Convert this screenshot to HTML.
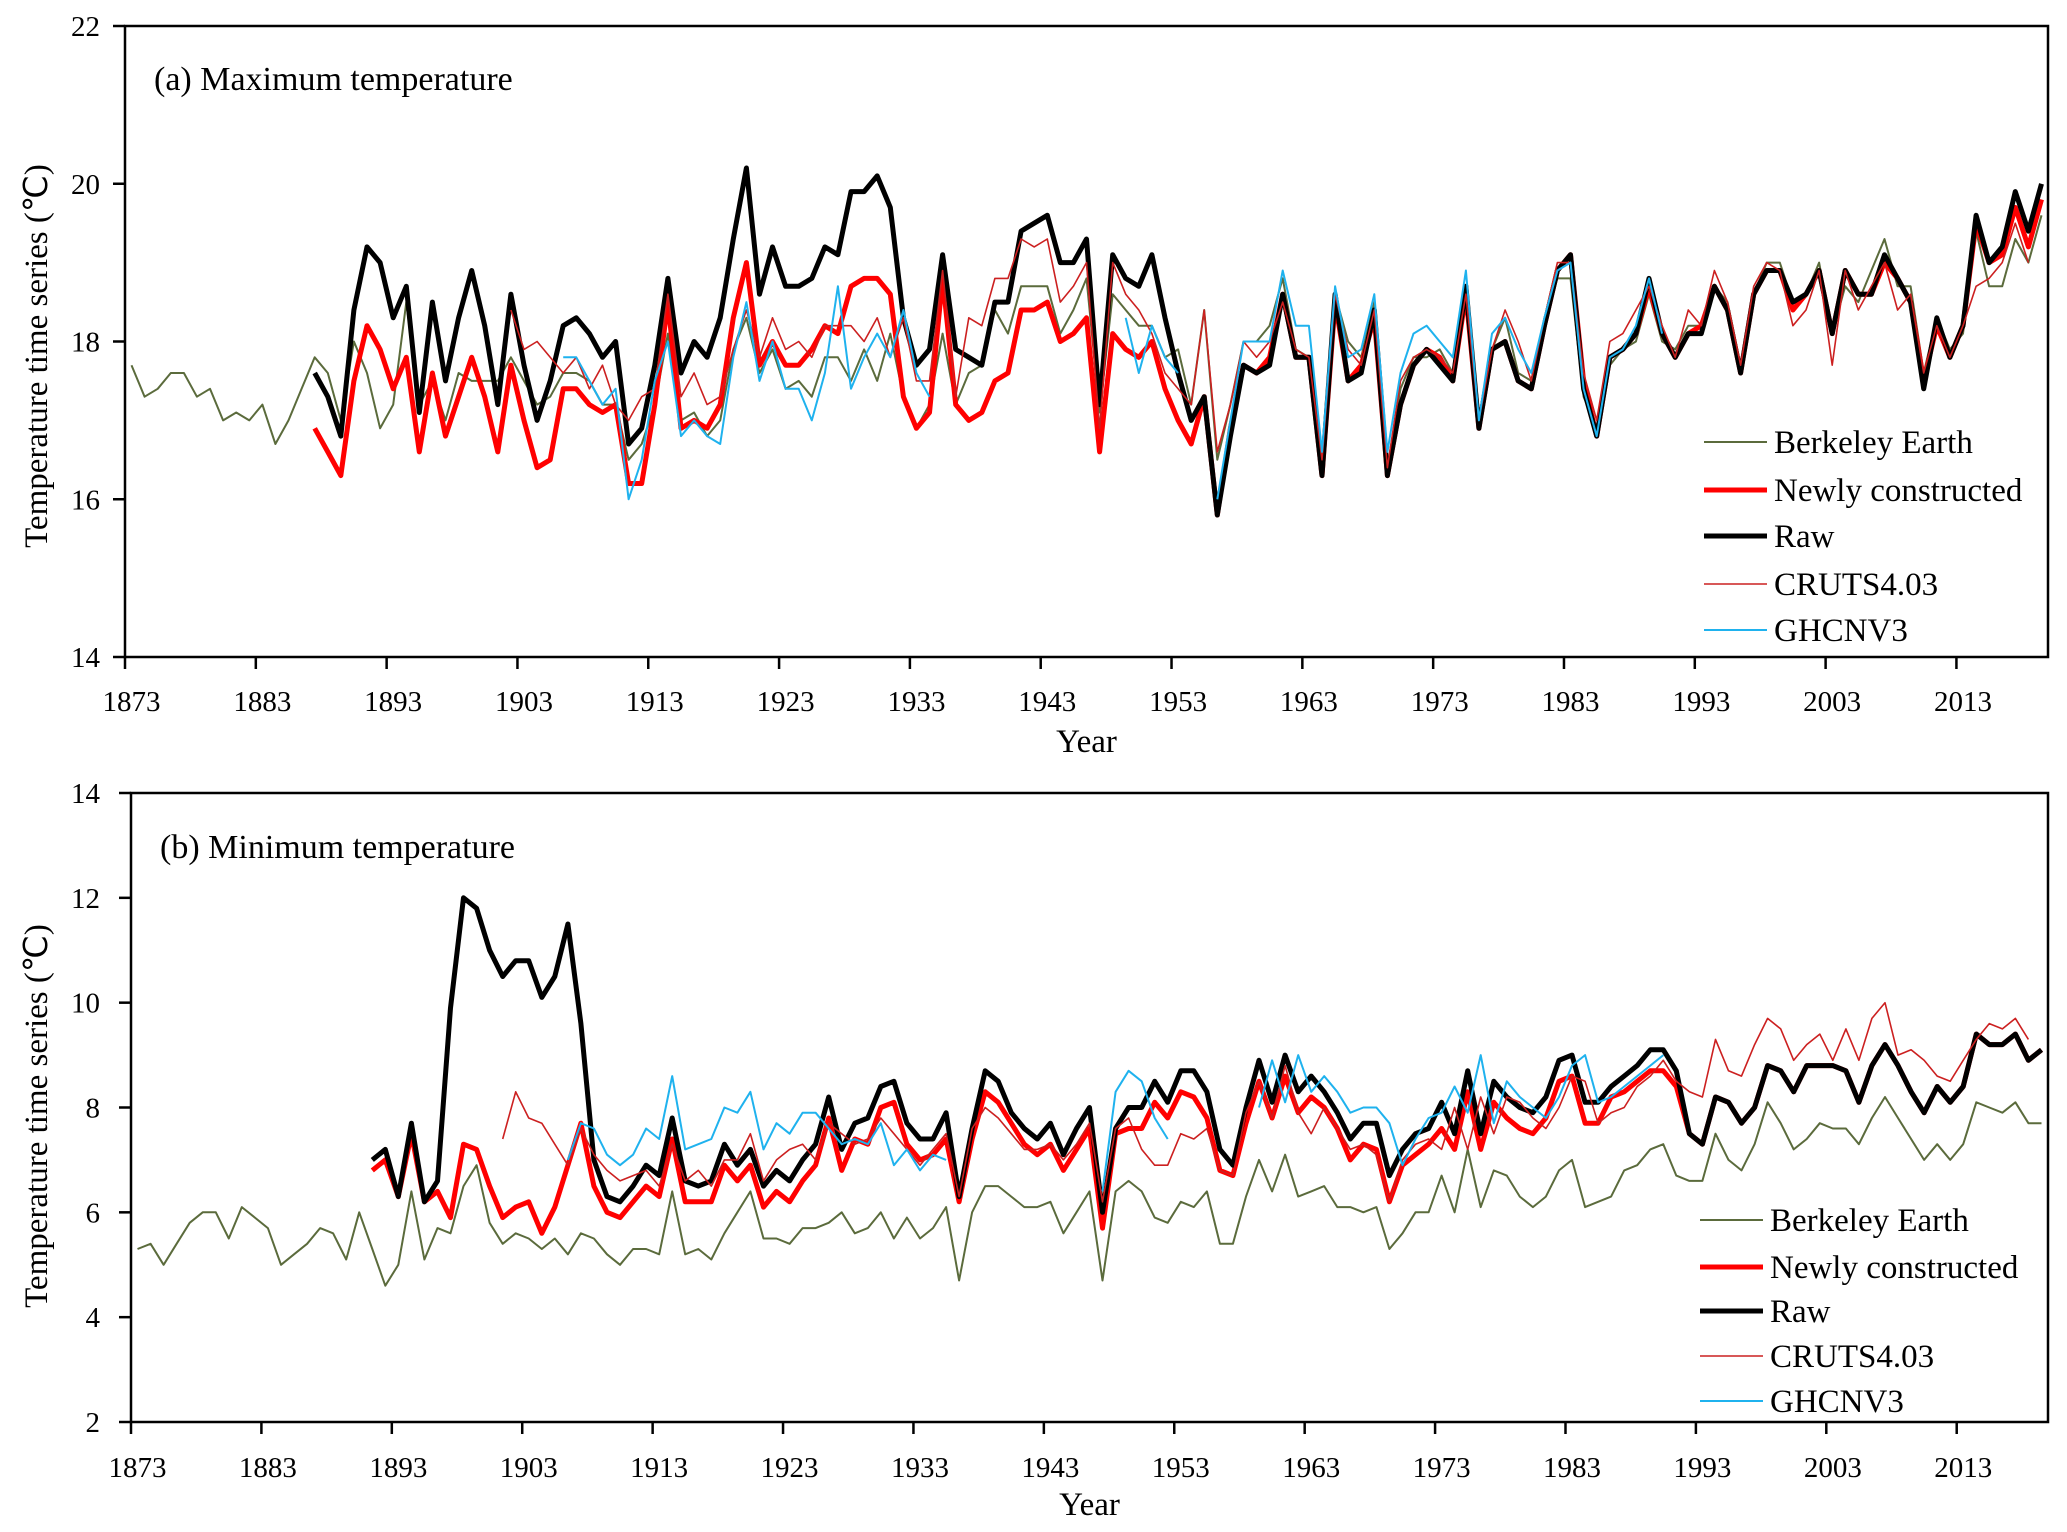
<!DOCTYPE html>
<html><head><meta charset="utf-8"><style>
html,body{margin:0;padding:0;background:#fff;}
svg{display:block;font-family:"Liberation Serif",serif;}
</style></head><body>
<svg id="chart" width="2067" height="1532" viewBox="0 0 2067 1532" xmlns="http://www.w3.org/2000/svg"></svg>
<script>
const years0 = 1873, nYears = 147;
const xTickYears = [1873,1883,1893,1903,1913,1923,1933,1943,1953,1963,1973,1983,1993,2003,2013];
const topYTicks = [14,16,18,20,22];
const botYTicks = [2,4,6,8,10,12,14];
const seriesNames = ["Berkeley Earth","Newly constructed","Raw","CRUTS4.03","GHCNV3"];

// Top panel (maximum temperature)
const maxBerkeleyStart = 1873;
const maxBerkeley = [17.7,17.3,17.4,17.6,17.6,17.3,17.4,17.0,17.1,17.0,
17.2,16.7,17.0,17.4,17.8,17.6,17.0,18.0,17.6,16.9,
17.2,18.5,17.2,17.5,17.0,17.6,17.5,17.5,17.5,17.8,
17.5,17.2,17.3,17.6,17.6,17.5,17.2,17.2,16.5,16.7,
17.2,18.1,17.0,17.1,16.8,17.0,17.9,18.3,17.6,17.9,
17.4,17.5,17.3,17.8,17.8,17.5,17.9,17.5,18.1,17.3,
16.9,17.2,18.1,17.2,17.6,17.7,18.4,18.1,18.7,18.7,
18.7,18.1,18.4,18.8,17.1,18.6,18.4,18.2,18.2,17.8,
17.9,17.2,18.4,16.5,17.2,18.0,18.0,18.2,18.8,17.9,
17.8,16.5,18.6,18.0,17.8,18.5,16.4,17.4,17.8,17.8,
17.9,17.6,18.7,17.0,17.9,18.3,17.6,17.5,18.3,18.8,
18.8,17.3,16.9,17.7,17.9,18.0,18.6,18.0,17.9,18.2,
18.2,18.7,18.5,17.7,18.6,19.0,19.0,18.5,18.6,19.0,
18.1,18.7,18.5,18.9,19.3,18.7,18.7,17.6,18.3,17.9,
18.1,19.4,18.7,18.7,19.3,19.0,19.6];
const maxNewStart = 1887;
const maxNew = [16.9,16.6,16.3,17.5,18.2,17.9,17.4,17.8,16.6,17.6,
16.8,17.3,17.8,17.3,16.6,17.7,17.0,16.4,16.5,17.4,
17.4,17.2,17.1,17.2,16.2,16.2,17.2,18.5,16.9,17.0,
16.9,17.2,18.3,19.0,17.7,18.0,17.7,17.7,17.9,18.2,
18.1,18.7,18.8,18.8,18.6,17.3,16.9,17.1,18.8,17.2,
17.0,17.1,17.5,17.6,18.4,18.4,18.5,18.0,18.1,18.3,
16.6,18.1,17.9,17.8,18.0,17.4,17.0,16.7,17.3,15.8,
16.9,17.7,17.6,17.8,18.6,17.8,17.8,16.3,18.5,17.5,
17.7,18.3,16.3,17.2,17.7,17.9,17.8,17.5,18.6,16.9,
17.9,18.0,17.5,17.4,18.2,18.9,19.1,17.5,16.8,17.8,
17.9,18.1,18.7,18.1,17.8,18.1,18.2,18.7,18.4,17.6,
18.6,18.9,18.9,18.4,18.6,18.9,18.1,18.9,18.6,18.6,
19.0,18.8,18.5,17.5,18.2,17.8,18.2,19.5,19.0,19.1,
19.7,19.2,19.8];
const maxRawStart = 1887;
const maxRaw = [17.6,17.3,16.8,18.4,19.2,19.0,18.3,18.7,17.1,18.5,
17.5,18.3,18.9,18.2,17.2,18.6,17.7,17.0,17.5,18.2,
18.3,18.1,17.8,18.0,16.7,16.9,17.7,18.8,17.6,18.0,
17.8,18.3,19.3,20.2,18.6,19.2,18.7,18.7,18.8,19.2,
19.1,19.9,19.9,20.1,19.7,18.3,17.7,17.9,19.1,17.9,
17.8,17.7,18.5,18.5,19.4,19.5,19.6,19.0,19.0,19.3,
17.2,19.1,18.8,18.7,19.1,18.3,17.6,17.0,17.3,15.8,
16.8,17.7,17.6,17.7,18.6,17.8,17.8,16.3,18.6,17.5,
17.6,18.4,16.3,17.2,17.7,17.9,17.7,17.5,18.7,16.9,
17.9,18.0,17.5,17.4,18.2,18.9,19.1,17.4,16.8,17.8,
17.9,18.1,18.8,18.1,17.8,18.1,18.1,18.7,18.4,17.6,
18.6,18.9,18.9,18.5,18.6,18.9,18.1,18.9,18.6,18.6,
19.1,18.8,18.5,17.4,18.3,17.8,18.2,19.6,19.0,19.2,
19.9,19.4,20.0];
const maxCruStart = 1902;
const maxCru = [18.4,17.9,18.0,17.8,17.6,17.8,17.4,17.7,17.2,17.0,
17.3,17.4,18.6,17.3,17.6,17.2,17.3,17.9,18.4,17.8,
18.3,17.9,18.0,17.8,18.2,18.2,18.2,18.0,18.3,17.8,
18.3,17.5,17.5,18.9,17.3,18.3,18.2,18.8,18.8,19.3,
19.2,19.3,18.5,18.7,19.0,16.9,19.0,18.6,18.4,18.1,
17.6,17.4,17.2,18.4,16.6,17.2,18.0,17.8,18.0,18.5,
17.9,17.8,16.5,18.6,17.9,17.7,18.4,16.4,17.5,17.8,
17.9,17.8,17.6,18.6,17.0,17.9,18.4,18.0,17.5,18.3,
19.0,19.0,17.6,17.0,18.0,18.1,18.4,18.7,18.2,17.8,
18.4,18.2,18.9,18.5,17.7,18.7,19.0,18.9,18.2,18.4,
18.9,17.7,18.9,18.4,18.7,19.0,18.4,18.6,17.6,18.2,
17.8,18.2,18.7,18.8,19.0,19.5,19.0];
const maxGhcnStart = 1906;
const maxGhcn = [17.8,17.8,17.5,17.2,17.4,16.0,16.5,17.5,18.0,16.8,
17.0,16.8,16.7,17.8,18.5,17.5,18.0,17.4,17.4,17.0,
17.6,18.7,17.4,17.8,18.1,17.8,18.4,17.6,17.3,null,
null,null,null,null,null,null,null,null,null,null,
null,null,null,18.3,17.6,18.2,17.8,17.6,null,null,
16.0,17.0,18.0,18.0,18.0,18.9,18.2,18.2,16.6,18.7,
17.8,17.9,18.6,16.6,17.6,18.1,18.2,18.0,17.8,18.9,
17.0,18.1,18.3,17.9,17.6,18.3,18.9,19.0,17.4,16.8,
17.8,17.9,18.2,18.8,18.1];

// Bottom panel (minimum temperature)
const minBerkeleyStart = 1873;
const minBerkeley = [5.3,5.4,5.0,5.4,5.8,6.0,6.0,5.5,6.1,5.9,
5.7,5.0,5.2,5.4,5.7,5.6,5.1,6.0,5.3,4.6,
5.0,6.4,5.1,5.7,5.6,6.5,6.9,5.8,5.4,5.6,
5.5,5.3,5.5,5.2,5.6,5.5,5.2,5.0,5.3,5.3,
5.2,6.4,5.2,5.3,5.1,5.6,6.0,6.4,5.5,5.5,
5.4,5.7,5.7,5.8,6.0,5.6,5.7,6.0,5.5,5.9,
5.5,5.7,6.1,4.7,6.0,6.5,6.5,6.3,6.1,6.1,
6.2,5.6,6.0,6.4,4.7,6.4,6.6,6.4,5.9,5.8,
6.2,6.1,6.4,5.4,5.4,6.3,7.0,6.4,7.1,6.3,
6.4,6.5,6.1,6.1,6.0,6.1,5.3,5.6,6.0,6.0,
6.7,6.0,7.2,6.1,6.8,6.7,6.3,6.1,6.3,6.8,
7.0,6.1,6.2,6.3,6.8,6.9,7.2,7.3,6.7,6.6,
6.6,7.5,7.0,6.8,7.3,8.1,7.7,7.2,7.4,7.7,
7.6,7.6,7.3,7.8,8.2,7.8,7.4,7.0,7.3,7.0,
7.3,8.1,8.0,7.9,8.1,7.7,7.7];
const minNewStart = 1891;
const minNew = [6.8,7.0,6.3,7.5,6.2,6.4,5.9,7.3,7.2,6.5,
5.9,6.1,6.2,5.6,6.1,6.9,7.7,6.5,6.0,5.9,
6.2,6.5,6.3,7.4,6.2,6.2,6.2,6.9,6.6,6.9,
6.1,6.4,6.2,6.6,6.9,7.8,6.8,7.4,7.3,8.0,
8.1,7.3,7.0,7.1,7.4,6.2,7.4,8.3,8.1,7.7,
7.3,7.1,7.3,6.8,7.2,7.6,5.7,7.5,7.6,7.6,
8.1,7.8,8.3,8.2,7.8,6.8,6.7,7.7,8.5,7.8,
8.6,7.9,8.2,8.0,7.6,7.0,7.3,7.2,6.2,6.9,
7.1,7.3,7.6,7.2,8.3,7.2,8.1,7.8,7.6,7.5,
7.8,8.5,8.6,7.7,7.7,8.2,8.3,8.5,8.7,8.7,
8.4,7.5,7.3,8.2,8.1,7.7,8.0,8.8,8.7,8.3,
8.8,8.8,8.8,8.7,8.1,8.8,9.2,8.8,8.3,7.9,
8.4,8.1,8.4,9.4,9.2,9.2,9.4,8.9,9.1];
const minRawStart = 1891;
const minRaw = [7.0,7.2,6.3,7.7,6.2,6.6,9.9,12.0,11.8,11.0,
10.5,10.8,10.8,10.1,10.5,11.5,9.6,7.0,6.3,6.2,
6.5,6.9,6.7,7.8,6.6,6.5,6.6,7.3,6.9,7.2,
6.5,6.8,6.6,7.0,7.3,8.2,7.2,7.7,7.8,8.4,
8.5,7.7,7.4,7.4,7.9,6.3,7.6,8.7,8.5,7.9,
7.6,7.4,7.7,7.1,7.6,8.0,6.0,7.6,8.0,8.0,
8.5,8.1,8.7,8.7,8.3,7.2,6.9,8.0,8.9,8.1,
9.0,8.3,8.6,8.3,7.9,7.4,7.7,7.7,6.7,7.2,
7.5,7.6,8.1,7.5,8.7,7.5,8.5,8.2,8.0,7.9,
8.2,8.9,9.0,8.1,8.1,8.4,8.6,8.8,9.1,9.1,
8.7,7.5,7.3,8.2,8.1,7.7,8.0,8.8,8.7,8.3,
8.8,8.8,8.8,8.7,8.1,8.8,9.2,8.8,8.3,7.9,
8.4,8.1,8.4,9.4,9.2,9.2,9.4,8.9,9.1];
const minCruStart = 1901;
const minCru = [7.4,8.3,7.8,7.7,7.3,6.9,7.6,7.1,6.8,6.6,
6.7,6.8,6.5,7.3,6.6,6.8,6.5,7.0,7.0,7.5,
6.6,7.0,7.2,7.3,7.0,7.7,7.5,7.3,7.4,7.8,
7.5,7.2,6.9,7.2,7.5,6.3,7.6,8.0,7.8,7.5,
7.2,7.2,7.3,7.0,7.3,7.7,6.2,7.6,7.8,7.2,
6.9,6.9,7.5,7.4,7.6,6.8,6.7,7.9,8.5,7.8,
8.8,7.9,7.5,8.0,7.6,7.2,7.3,7.1,6.2,7.0,
7.3,7.4,7.2,8.0,7.2,8.2,7.5,8.2,8.1,7.8,
7.6,8.0,8.6,8.5,7.7,7.9,8.0,8.4,8.6,8.9,
8.5,8.3,8.2,9.3,8.7,8.6,9.2,9.7,9.5,8.9,
9.2,9.4,8.9,9.5,8.9,9.7,10.0,9.0,9.1,8.9,
8.6,8.5,8.9,9.3,9.6,9.5,9.7,9.3];
const minGhcnStart = 1906;
const minGhcn = [7.0,7.7,7.6,7.1,6.9,7.1,7.6,7.4,8.6,7.2,
7.3,7.4,8.0,7.9,8.3,7.2,7.7,7.5,7.9,7.9,
7.6,7.3,7.4,7.3,7.7,6.9,7.2,6.8,7.1,7.0,
null,null,null,null,null,null,null,null,null,null,
null,6.4,8.3,8.7,8.5,7.8,7.4,null,null,null,
null,null,null,8.0,8.9,8.1,9.0,8.3,8.6,8.3,
7.9,8.0,8.0,7.7,6.9,7.4,7.8,7.9,8.4,7.9,
9.0,7.7,8.5,8.2,8.0,7.8,8.2,8.8,9.0,8.1,
8.2,8.4,8.6,8.8,9.0];

const NS = "http://www.w3.org/2000/svg";
const svg = document.getElementById("chart");
function mk(tag, attrs, parent){ const e=document.createElementNS(NS,tag); for(const k in attrs) e.setAttribute(k,attrs[k]); (parent||svg).appendChild(e); return e; }

const panels = [
 {id:"max", left:125, right:2048, top:26, bottom:657, ymin:14, ymax:22, yticks:topYTicks, label:"(a) Maximum temperature", labelX:154, labelY:90,
  yTitleY:356, xLabY:711, yearY:752, legX:1704, legY:[442,490,536,584,630],
  series:[[maxBerkeley,maxBerkeleyStart],[maxNew,maxNewStart],[maxRaw,maxRawStart],[maxCru,maxCruStart],[maxGhcn,maxGhcnStart]]},
 {id:"min", left:131, right:2048, top:793, bottom:1422, ymin:2, ymax:14, yticks:botYTicks, label:"(b) Minimum temperature", labelX:160, labelY:858,
  yTitleY:1116, xLabY:1477, yearY:1515, legX:1700, legY:[1220,1267,1311,1356,1401],
  series:[[minBerkeley,minBerkeleyStart],[minNew,minNewStart],[minRaw,minRawStart],[minCru,minCruStart],[minGhcn,minGhcnStart]]}
];
const styles = [
 {stroke:"#5b6b3c", w:2, name:"berkeley-earth"},
 {stroke:"#ff0000", w:5, name:"newly-constructed"},
 {stroke:"#000000", w:5, name:"raw"},
 {stroke:"#cc2020", w:1.6, name:"cruts403"},
 {stroke:"#1fb2ee", w:2, name:"ghcnv3"}
];

panels.forEach(p=>{
  const g = mk("g",{});
  
  
  const step = (p.right-p.left)/nYears;
  const xs = yr => p.left + (yr - years0 + 0.5)*step;
  const ys = v => p.bottom - (v - p.ymin)/(p.ymax-p.ymin)*(p.bottom-p.top);
  const clipId = "clip-"+p.id;
  const cp = mk("clipPath",{id:clipId},g); mk("rect",{x:p.left,y:p.top,width:p.right-p.left,height:p.bottom-p.top},cp);
  const frame = mk("rect",{x:p.left,y:p.top,width:p.right-p.left,height:p.bottom-p.top,fill:"none",stroke:"#000","stroke-width":2.5},g);
  
  
  p.yticks.forEach(t=>{
    const y=ys(t);
    const tl = mk("line",{x1:p.left-12,x2:p.left,y1:y,y2:y,stroke:"#000","stroke-width":2.5},g);
    
    
    const tx = mk("text",{x:100,y:y+10,"text-anchor":"end","font-size":29},g); tx.textContent=t;
    
    
  });
  xTickYears.forEach(yr=>{
    const x = p.left + (yr-years0)*step;
    const tl = mk("line",{x1:x,x2:x,y1:p.bottom,y2:p.bottom+12,stroke:"#000","stroke-width":2.5},g);
    
    
    const tx = mk("text",{x:xs(yr),y:p.xLabY,"text-anchor":"middle","font-size":29},g); tx.textContent=yr;
    
    
  });
  const yr = mk("text",{x:(p.left+p.right)/2,y:p.yearY,"text-anchor":"middle","font-size":33},g); yr.textContent="Year";
  
  
  const yt = mk("text",{x:0,y:0,"text-anchor":"middle","font-size":33,transform:`translate(47,${p.yTitleY}) rotate(-90)`},g);
  yt.textContent="Temperature time series (℃)";
  
  
  const pl = mk("text",{x:p.labelX,y:p.labelY,"font-size":34},g); pl.textContent=p.label;
  
  
  const lines = mk("g",{"clip-path":`url(#${clipId})`},g);
  p.series.forEach((s,i)=>{
    const [vals,start]=s; let d=""; let pen=false;
    vals.forEach((v,k)=>{
      if(v===null||v===undefined){pen=false;return;}
      const X=xs(start+k).toFixed(1), Y=ys(v).toFixed(1);
      d += (pen?"L":"M")+X+" "+Y+" "; pen=true;
    });
    const path = mk("path",{d:d,fill:"none",stroke:styles[i].stroke,"stroke-width":styles[i].w,"stroke-linejoin":"round"},lines);
    
    
  });
  const lg = mk("g",{},g);
  
  
  seriesNames.forEach((n,i)=>{
    const y=p.legY[i];
    const ln = mk("line",{x1:p.legX,x2:p.legX+63,y1:y,y2:y,stroke:styles[i].stroke,"stroke-width":styles[i].w},lg);
    
    
    const t = mk("text",{x:p.legX+70,y:y+11,"font-size":33},lg); t.textContent=n;
    
    
  });
});
</script>
</body></html>
